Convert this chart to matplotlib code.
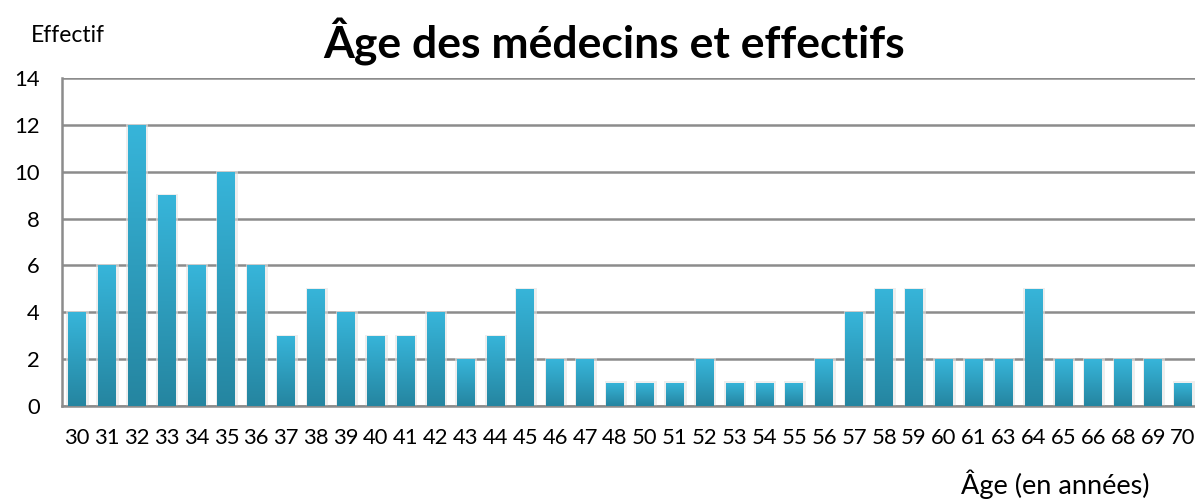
import matplotlib
matplotlib.use('Agg')
import matplotlib.pyplot as plt
import numpy as np
from matplotlib.colors import LinearSegmentedColormap

ages = ['30', '31', '32', '33', '34', '35', '36', '37', '38', '39', '40', '41',
        '42', '43', '44', '45', '46', '47', '48', '50', '51', '52', '53', '54',
        '55', '56', '57', '58', '59', '60', '61', '63', '64', '65', '66', '68',
        '69', '70']
effectifs = [4, 6, 12, 9, 6, 10, 6, 3, 5, 4, 3, 3, 4, 2, 3, 5, 2, 2, 1, 1, 1,
             2, 1, 1, 1, 2, 4, 5, 5, 2, 2, 2, 5, 2, 2, 2, 2, 1]

plt.rcParams['font.family'] = ['Lato', 'DejaVu Sans']

fig = plt.figure(figsize=(11.95, 5.0), dpi=100)
ax = fig.add_axes([62 / 1195, 94 / 500, 1136 / 1195, 328 / 500])

x = np.arange(len(ages))
bars = ax.bar(x, effectifs, width=0.6, color='none', zorder=3)

# vertical gradient in every bar, with a soft shadow
cmap = LinearSegmentedColormap.from_list('bleu', ['#2585a0', '#37b5da'])
grad = np.linspace(0, 1, 256).reshape(-1, 1)
for b in bars:
    x0, y0 = b.get_x(), b.get_y()
    w, h = b.get_width(), b.get_height()
    ax.bar(x0 + w / 2 + 0.02, h + 0.05, width=w + 0.14, color='#e4e4e4',
           alpha=0.6, zorder=2.5)
    im = ax.imshow(grad, cmap=cmap, aspect='auto', origin='lower',
                   extent=(x0, x0 + w, y0, y0 + h), zorder=3)
    im.set_clip_path(b)

ax.set_xlim(-0.5, len(ages) - 0.5)
ax.set_ylim(0, 14)
ax.set_yticks(range(0, 15, 2))
ax.set_xticks(x)
ax.set_xticklabels(ages)
ax.yaxis.grid(True, color='#8c8c8c', linewidth=1.8, zorder=0)
ax.set_axisbelow(True)
for s in ['top', 'right']:
    ax.spines[s].set_visible(False)
for s in ['left', 'bottom']:
    ax.spines[s].set_color('#8c8c8c')
    ax.spines[s].set_linewidth(1.8)
ax.tick_params(axis='both', length=0, labelsize=15.8, colors='black')
ax.tick_params(axis='x', pad=16)
ax.tick_params(axis='y', pad=16)

fig.text(614 / 1195, 1 - 42 / 500, 'Âge des médecins et effectifs',
         ha='center', va='center', fontsize=32, fontweight='bold')
fig.text(68 / 1195, 1 - 35 / 500, 'Effectif', ha='center', va='center',
         fontsize=16.5)
fig.text(1055 / 1195, 1 - 484 / 500, 'Âge (en années)', ha='center',
         va='center', fontsize=19.5)

fig.savefig('out.png', dpi=100)
